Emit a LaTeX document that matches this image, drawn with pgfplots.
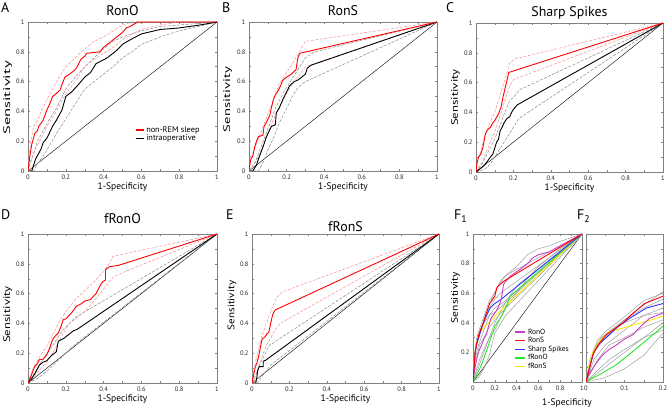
\documentclass[border=0pt]{standalone}
\usepackage{fontspec}
\setmainfont{PT Sans}
\usepackage{pgfplots}
\pgfplotsset{compat=1.18}
\definecolor{mymag}{RGB}{205,60,200}
\definecolor{myred}{RGB}{255,0,0}
\definecolor{myblue}{RGB}{50,50,255}
\definecolor{mygreen}{RGB}{40,230,40}
\definecolor{myyellow}{RGB}{250,235,0}
\definecolor{pinkd}{RGB}{242,145,145}
\definecolor{grayd}{RGB}{135,135,135}
\definecolor{grayl}{RGB}{150,150,150}
\pgfplotsset{
 myax/.style={
  scale only axis, anchor=south west,
  xmin=0,xmax=1,ymin=0,ymax=1,
  xtick={0,0.2,0.4,0.6,0.8,1}, ytick={0,0.2,0.4,0.6,0.8,1},
  minor xtick={0.1,0.3,0.5,0.7,0.9}, minor ytick={0.1,0.3,0.5,0.7,0.9},
  tick align=inside, major tick length=2bp, minor tick length=2bp,
  axis line style={black!50, line width=0.5pt}, tick style={black!50, line width=0.4pt},
  /pgf/number format/assume math mode=true,
  tick label style={font=\fontsize{6.5}{7}\selectfont, color=black!85},
  xlabel={1-Specificity}, ylabel={Sensitivity},
  label style={font=\fontsize{9.5}{11}\selectfont},
  xlabel style={at={(axis description cs:0.5,0)}, anchor=center, yshift=-16.5bp},
  title style={font=\fontsize{14}{16}\selectfont, anchor=base, at={(axis description cs:0.5,1)}, inner sep=0pt},
  clip=true,
 },
 tsh/.style={title style={yshift=#1}},
 yl/.style n args={3}{ylabel style={at={([xshift=-#1bp]axis description cs:0,#2)}, anchor=center, xscale=#3}},
 sred/.style={myred, line width=0.9pt, forget plot},
 sblk/.style={black, line width=0.9pt, forget plot},
 dred/.style={pinkd, line width=0.5pt, dash pattern=on 3pt off 1.5pt, forget plot},
 dgry/.style={grayd, line width=0.5pt, dash pattern=on 3pt off 1.5pt, forget plot},
 diag/.style={black, line width=0.4pt, forget plot},
 fg/.style={grayl, line width=0.45pt, forget plot},
}
\newcommand\Fcurves{%
\addplot[fg] coordinates {(0,0)(0.02,0.2)(0.05,0.3)(0.1,0.42)(0.15,0.52)(0.2,0.61)(0.25,0.67)(0.3,0.72)(0.4,0.78)(0.5,0.86)(0.6,0.9)(0.7,0.92)(0.8,0.95)(1,1)};
\addplot[fg] coordinates {(0,0)(0.01,0.15)(0.03,0.28)(0.05,0.34)(0.1,0.44)(0.15,0.55)(0.2,0.6)(0.25,0.68)(0.3,0.72)(1,1)};
\addplot[fg] coordinates {(0,0)(0.02,0.15)(0.05,0.25)(0.1,0.35)(0.15,0.45)(0.2,0.5)(0.3,0.55)(1,1)};
\addplot[fg] coordinates {(0,0)(0.03,0.15)(0.06,0.25)(0.1,0.3)(0.15,0.37)(0.2,0.42)(0.3,0.5)(1,1)};
\addplot[fg] coordinates {(0,0)(0.03,0.08)(0.06,0.15)(0.1,0.22)(0.15,0.3)(0.2,0.35)(0.25,0.43)(0.3,0.5)(0.4,0.6)(0.5,0.7)(0.6,0.78)(0.8,0.9)(1,1)};
\addplot[fg] coordinates {(0,0)(0.05,0.03)(0.1,0.09)(0.15,0.18)(0.2,0.33)(0.3,0.45)(1,1)};
\addplot[fg] coordinates {(0,0)(0.01,0.12)(0.02,0.22)(0.04,0.3)(0.07,0.36)(0.1,0.4)(0.15,0.45)(0.2,0.47)(1,1)};
\addplot[fg] coordinates {(0,0)(0.02,0.22)(0.05,0.32)(0.1,0.42)(0.15,0.5)(0.2,0.56)(0.25,0.6)(1,1)};
\addplot[fg] coordinates {(0,0)(0.05,0.1)(0.1,0.2)(0.15,0.3)(0.2,0.4)(0.3,0.54)(0.4,0.65)(1,1)};
\addplot[myyellow, line width=0.9pt, forget plot] coordinates {(0,0)(0.005,0.08)(0.018,0.207)(0.035,0.275)(0.061,0.34)(0.096,0.365)(0.157,0.41)(0.2,0.444)(0.22,0.46)(1,1)};
\addplot[mygreen, line width=0.9pt, forget plot] coordinates {(0,0)(0.01,0.016)(0.035,0.05)(0.079,0.117)(0.122,0.207)(0.165,0.3)(0.2,0.376)(0.25,0.43)(0.3,0.5)(0.34,0.58)(1,1)};
\addplot[myblue, line width=0.9pt, forget plot] coordinates {(0,0)(0.005,0.06)(0.02,0.2)(0.035,0.26)(0.053,0.3)(0.079,0.365)(0.113,0.43)(0.157,0.5)(0.2,0.53)(0.26,0.56)(1,1)};
\addplot[mymag, line width=0.9pt, forget plot] coordinates {(0,0)(0.005,0.04)(0.018,0.095)(0.03,0.14)(0.044,0.185)(0.06,0.22)(0.079,0.25)(0.1,0.29)(0.122,0.32)(0.14,0.37)(0.165,0.43)(0.2,0.466)(0.23,0.5)(0.26,0.56)(0.28,0.66)(0.3,0.68)(0.35,0.72)(0.43,0.76)(0.5,0.8)(0.55,0.84)(0.6,0.86)(0.7,0.88)(0.8,0.92)(0.9,0.96)(1,1)};
\addplot[myred, line width=0.9pt, forget plot] coordinates {(0,0)(0.005,0.05)(0.018,0.185)(0.031,0.25)(0.053,0.32)(0.075,0.36)(0.096,0.4)(0.12,0.46)(0.152,0.53)(0.2,0.58)(0.22,0.64)(0.28,0.68)(1,1)};
}
\begin{document}
\begin{tikzpicture}
\useasboundingbox (0,0) rectangle (669bp,410bp);
% ---------- A ----------
\begin{axis}[myax, at={(28bp,239bp)}, width=189bp, height=149bp, title={RonO}, tsh=1bp, yl={20.3}{0.49}{1.75},
  legend style={at={(axis cs:0.565,0.315)}, anchor=north west, draw=none, fill=none,
    font=\fontsize{8.3}{9.3}\selectfont, row sep=-3pt, inner sep=0pt},
  legend cell align=left,
  legend image code/.code={\draw[#1, line width=1.3pt] (0bp,0bp) -- (8bp,0bp);}]
\addplot[diag] coordinates {(0,0)(1,1)};
\addplot[dgry] coordinates {(0,0)(0.01,0.05)(0.03,0.12)(0.05,0.2)(0.08,0.27)(0.1,0.32)(0.15,0.42)(0.2,0.55)(0.25,0.63)(0.3,0.7)(0.35,0.76)(0.4,0.82)(0.45,0.87)(0.5,0.9)(0.6,0.94)(0.7,0.97)(0.8,0.98)(1,1)};
\addplot[dgry] coordinates {(0,0)(0.03,0)(0.05,0.05)(0.08,0.1)(0.1,0.14)(0.15,0.25)(0.2,0.35)(0.25,0.45)(0.3,0.55)(0.35,0.6)(0.4,0.65)(0.45,0.7)(0.5,0.76)(0.55,0.8)(0.6,0.85)(0.7,0.9)(0.8,0.94)(1,1)};
\addplot[dred] coordinates {(0,0)(0.005,0.1)(0.015,0.2)(0.03,0.3)(0.05,0.34)(0.07,0.4)(0.1,0.48)(0.13,0.55)(0.16,0.62)(0.2,0.7)(0.25,0.76)(0.3,0.82)(0.35,0.87)(0.4,0.9)(0.45,0.94)(0.5,0.98)(0.55,1)(1,1)};
\addplot[dred] coordinates {(0,0)(0.02,0.08)(0.04,0.15)(0.07,0.22)(0.1,0.3)(0.15,0.4)(0.2,0.52)(0.25,0.6)(0.3,0.7)(0.35,0.75)(0.4,0.79)(0.45,0.83)(0.5,0.88)(0.55,0.92)(0.6,0.95)(0.7,0.98)(0.8,1)(1,1)};
\addplot[sblk] coordinates {(0,0)(0.02,0)(0.03,0.04)(0.04,0.08)(0.053,0.11)(0.07,0.15)(0.08,0.19)(0.1,0.22)(0.13,0.3)(0.15,0.34)(0.18,0.41)(0.2,0.5)(0.23,0.53)(0.26,0.57)(0.3,0.63)(0.33,0.66)(0.36,0.72)(0.42,0.76)(0.47,0.81)(0.5,0.85)(0.54,0.88)(0.6,0.92)(0.7,0.95)(0.8,0.96)(0.91,0.98)(1,1)};
\addplot[sred] coordinates {(0,0)(0.005,0.05)(0.01,0.1)(0.02,0.18)(0.027,0.21)(0.035,0.25)(0.05,0.27)(0.057,0.3)(0.08,0.34)(0.1,0.41)(0.115,0.45)(0.13,0.5)(0.15,0.52)(0.17,0.545)(0.18,0.58)(0.195,0.63)(0.22,0.65)(0.25,0.68)(0.26,0.7)(0.28,0.75)(0.3,0.77)(0.31,0.79)(0.38,0.8)(0.4,0.83)(0.43,0.86)(0.47,0.9)(0.5,0.93)(0.52,0.96)(0.54,0.97)(0.58,1)(1,1)};
\addlegendimage{draw=myred}\addlegendentry{non-REM sleep}
\addlegendimage{draw=black}\addlegendentry{intraoperative}
\end{axis}
% ---------- B ----------
\begin{axis}[myax, at={(249bp,239bp)}, width=188bp, height=149bp, title={RonS}, tsh=1bp, yl={21.3}{0.48}{1.55}]
\addplot[diag] coordinates {(0,0)(1,1)};
\addplot[dgry] coordinates {(0,0)(0.03,0.05)(0.06,0.15)(0.1,0.28)(0.14,0.42)(0.18,0.52)(0.22,0.6)(0.26,0.68)(0.3,0.76)(0.35,0.8)(1,1)};
\addplot[dgry] coordinates {(0,0)(0.05,0)(0.08,0.07)(0.1,0.14)(0.13,0.22)(0.16,0.32)(0.2,0.42)(0.23,0.5)(0.26,0.56)(0.3,0.6)(1,1)};
\addplot[dred] coordinates {(0,0)(0.01,0.08)(0.03,0.15)(0.06,0.25)(0.1,0.38)(0.13,0.48)(0.16,0.58)(0.2,0.66)(0.23,0.72)(0.26,0.78)(0.3,0.87)(1,1)};
\addplot[dred] coordinates {(0,0)(0.03,0.05)(0.06,0.12)(0.1,0.25)(0.13,0.35)(0.17,0.45)(0.2,0.52)(0.23,0.58)(0.26,0.63)(0.3,0.7)(1,1)};
\addplot[sblk] coordinates {(0,0)(0.02,0)(0.04,0.04)(0.05,0.08)(0.074,0.16)(0.09,0.22)(0.1,0.25)(0.12,0.3)(0.14,0.31)(0.145,0.39)(0.16,0.42)(0.18,0.48)(0.2,0.53)(0.215,0.57)(0.24,0.6)(0.26,0.61)(0.28,0.63)(0.3,0.65)(0.31,0.69)(0.33,0.71)(1,1)};
\addplot[sred] coordinates {(0,0)(0.005,0.05)(0.01,0.08)(0.02,0.1)(0.03,0.16)(0.04,0.2)(0.05,0.23)(0.074,0.24)(0.08,0.3)(0.09,0.32)(0.11,0.37)(0.12,0.43)(0.13,0.48)(0.14,0.51)(0.16,0.55)(0.17,0.58)(0.18,0.61)(0.2,0.63)(0.225,0.65)(0.25,0.68)(0.26,0.76)(0.27,0.79)(1,1)};
\end{axis}
% ---------- C ----------
\begin{axis}[myax, at={(476bp,238bp)}, width=187bp, height=149bp, title={Sharp Spikes}, tsh=0.5bp, yl={20.5}{0.5}{1.35}]
\addplot[diag] coordinates {(0,0)(1,1)};
\addplot[dgry] coordinates {(0,0)(0.03,0.05)(0.06,0.12)(0.1,0.22)(0.13,0.32)(0.16,0.42)(0.18,0.48)(0.2,0.5)(0.23,0.55)(1,1)};
\addplot[dgry] coordinates {(0,0)(0.05,0.02)(0.08,0.06)(0.1,0.1)(0.13,0.16)(0.16,0.22)(0.2,0.3)(0.23,0.36)(1,1)};
\addplot[dred] coordinates {(0,0)(0.01,0.08)(0.03,0.16)(0.05,0.25)(0.07,0.32)(0.1,0.4)(0.13,0.52)(0.16,0.64)(0.18,0.73)(0.21,0.76)(1,1)};
\addplot[dred] coordinates {(0,0)(0.03,0.06)(0.06,0.15)(0.1,0.27)(0.13,0.38)(0.16,0.5)(0.18,0.58)(0.2,0.62)(1,1)};
\addplot[sblk] coordinates {(0,0)(0.02,0.02)(0.04,0.04)(0.06,0.07)(0.077,0.1)(0.09,0.12)(0.1,0.16)(0.11,0.2)(0.12,0.22)(0.13,0.28)(0.14,0.3)(0.15,0.33)(0.166,0.36)(0.18,0.37)(0.19,0.4)(0.2,0.42)(0.22,0.45)(1,1)};
\addplot[sred] coordinates {(0,0)(0.005,0.06)(0.014,0.1)(0.025,0.12)(0.037,0.165)(0.05,0.255)(0.06,0.28)(0.077,0.3)(0.09,0.33)(0.1,0.345)(0.12,0.39)(0.134,0.435)(0.144,0.5)(0.157,0.57)(0.166,0.616)(0.175,0.668)(1,1)};
\end{axis}
% ---------- D ----------
\begin{axis}[myax, at={(28bp,27bp)}, width=189bp, height=149bp, title={fRonO}, tsh=5bp, yl={20.3}{0.46}{1.35}]
\addplot[diag] coordinates {(0,0)(1,1)};
\addplot[dgry] coordinates {(0,0)(0.03,0.06)(0.06,0.12)(0.1,0.2)(0.14,0.27)(0.18,0.35)(0.22,0.4)(0.25,0.44)(1,1)};
\addplot[dgry] coordinates {(0,0)(0.05,0.03)(0.1,0.08)(0.15,0.14)(0.2,0.2)(0.25,0.26)(1,1)};
\addplot[dred] coordinates {(0,0)(0.02,0.08)(0.05,0.15)(0.1,0.25)(0.13,0.32)(0.16,0.4)(0.2,0.48)(0.25,0.56)(0.3,0.62)(0.35,0.68)(0.4,0.75)(0.43,0.8)(0.45,0.85)(1,1)};
\addplot[dred] coordinates {(0,0)(0.03,0.04)(0.07,0.1)(0.1,0.14)(0.14,0.22)(0.18,0.32)(0.22,0.4)(0.26,0.44)(0.3,0.48)(0.35,0.55)(0.4,0.63)(0.45,0.71)(0.5,0.74)(1,1)};
\addplot[sblk] coordinates {(0,0)(0.02,0.03)(0.044,0.08)(0.06,0.12)(0.08,0.14)(0.1,0.15)(0.12,0.18)(0.15,0.21)(0.16,0.28)(0.19,0.3)(0.22,0.33)(0.24,0.35)(0.26,0.36)(1,1)};
\addplot[sred] coordinates {(0,0)(0.01,0.03)(0.02,0.06)(0.035,0.11)(0.05,0.13)(0.06,0.157)(0.08,0.16)(0.1,0.19)(0.11,0.22)(0.13,0.29)(0.14,0.31)(0.16,0.335)(0.175,0.38)(0.186,0.425)(0.2,0.43)(0.23,0.47)(0.256,0.515)(0.28,0.53)(0.3,0.55)(0.33,0.56)(0.36,0.6)(0.38,0.65)(0.395,0.68)(0.41,0.69)(0.41,0.76)(0.43,0.78)(0.48,0.79)(1,1)};
\end{axis}
% ---------- E ----------
\begin{axis}[myax, at={(252bp,27bp)}, width=187bp, height=149bp, title={fRonS}, tsh=-3bp, yl={20}{0.52}{1.18}]
\addplot[diag] coordinates {(0,0)(1,1)};
\addplot[dgry] coordinates {(0,0)(0.02,0.05)(0.04,0.12)(0.06,0.17)(0.08,0.22)(0.09,0.25)(1,1)};
\addplot[dgry] coordinates {(0,0)(0.03,0)(0.05,0.04)(0.07,0.07)(0.1,0.12)(1,1)};
\addplot[dred] coordinates {(0,0)(0.01,0.1)(0.03,0.2)(0.05,0.3)(0.07,0.38)(0.1,0.48)(0.13,0.57)(0.16,0.61)(1,1)};
\addplot[dred] coordinates {(0,0)(0.02,0.05)(0.04,0.12)(0.06,0.2)(0.08,0.26)(0.1,0.3)(0.12,0.35)(0.15,0.4)(1,1)};
\addplot[sblk] coordinates {(0,0)(0.02,0)(0.025,0.03)(0.03,0.08)(0.035,0.1)(0.04,0.11)(0.06,0.11)(0.06,0.14)(0.065,0.15)(0.07,0.15)(1,1)};
\addplot[sred] coordinates {(0,0)(0.005,0.03)(0.01,0.06)(0.018,0.11)(0.025,0.13)(0.035,0.175)(0.045,0.24)(0.053,0.29)(0.06,0.3)(0.07,0.31)(0.08,0.33)(0.09,0.34)(0.1,0.4)(0.105,0.43)(0.11,0.456)(0.115,0.47)(0.124,0.49)(1,1)};
\end{axis}
% ---------- F1 ----------
\begin{axis}[myax, at={(473bp,28bp)}, width=109bp, height=148bp, xlabel={},
  ytick={0.2,0.4,0.6,0.8,1}, yl={17.5}{0.57}{1.22},
  legend style={at={(axis cs:0.38,0.375)}, anchor=north west, draw=none, fill=none,
    font=\fontsize{7.5}{8.5}\selectfont, row sep=-2.2pt, inner sep=0pt},
  legend cell align=left,
  legend image code/.code={\draw[#1, line width=1.4pt] (0bp,0bp) -- (10bp,0bp);}]
\addplot[diag] coordinates {(0,0)(1,1)};
\Fcurves
\addlegendimage{draw=mymag}\addlegendentry{RonO}
\addlegendimage{draw=myred}\addlegendentry{RonS}
\addlegendimage{draw=myblue}\addlegendentry{Sharp Spikes}
\addlegendimage{draw=mygreen}\addlegendentry{fRonO}
\addlegendimage{draw=myyellow}\addlegendentry{fRonS}
\end{axis}
% ---------- F2 ----------
\begin{axis}[myax, at={(586bp,28bp)}, width=77bp, height=148bp, xlabel={}, ylabel={},
  xmin=0, xmax=0.2, xtick={0,0.1,0.2}, minor xtick={0.05,0.15},
  yticklabels={}]
\Fcurves
\end{axis}
\node[font=\fontsize{9.5}{11}\selectfont, anchor=center] at (567bp,7bp) {1-Specificity};
% panel letters
\begin{scope}[every node/.style={font=\fontsize{14}{16}\selectfont, anchor=base west, inner sep=0pt}]
\node at (1bp,397bp) {A};
\node at (222bp,397bp) {B};
\node at (446bp,397bp) {C};
\node at (1bp,190bp) {D};
\node at (226bp,190bp) {E};
\node at (454bp,190bp) {F\textsubscript{1}};
\node at (577bp,190bp) {F\textsubscript{2}};
\end{scope}
\end{tikzpicture}
\end{document}
